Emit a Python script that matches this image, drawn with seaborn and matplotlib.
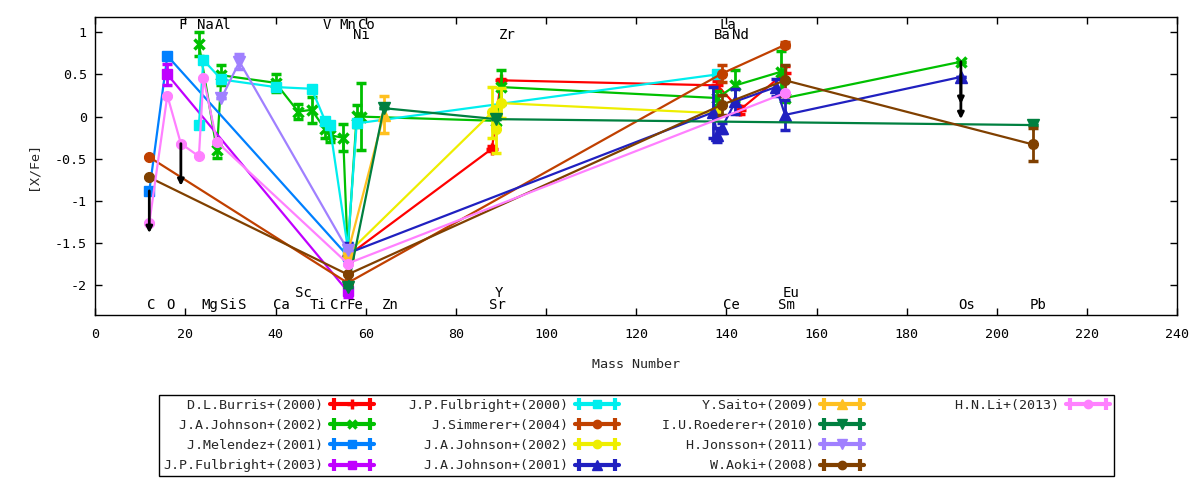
import matplotlib
matplotlib.use("Agg")
import matplotlib.pyplot as plt
from matplotlib.lines import Line2D
from matplotlib.legend_handler import HandlerLine2D
from matplotlib.ticker import FuncFormatter
import pandas as pd
import seaborn as sns

# -----------------------------
# Abundance data, [X/Fe] vs mass number
# -----------------------------
burris_x = [56, 88, 90, 138, 143, 153]
burris_y = [-1.65, -0.38, 0.43, 0.37, 0.08, 0.52]
burris_err = [0, 0.03, 0.02, 0.05, 0.05, 0.08]

johnson02_x = [23, 27, 28, 40, 45, 48, 51, 52, 55, 56, 58, 59, 89, 90, 138, 142, 152, 153, 192]
johnson02_y = [0.86, -0.40, 0.49, 0.40, 0.06, 0.08, -0.15, -0.22, -0.25, -1.60, 0.01, 0.00,
               -0.05, 0.35, 0.22, 0.37, 0.53, 0.22, 0.65]
johnson02_err = [0.14, 0.09, 0.12, 0.11, 0.09, 0.15, 0.10, 0.08, 0.16, 0, 0.13, 0.40,
                 0.05, 0.20, 0.08, 0.18, 0.25, 0.05, 0]

melendez_x = [12, 16, 56]
melendez_y = [-0.88, 0.72, -1.65]
melendez_err = [0, 0, 0]

fulbright03_x = [16, 56]
fulbright03_y = [0.50, -2.07]
fulbright03_err = [0.12, 0.07]

fulbright00_x = [23, 24, 28, 40, 48, 51, 52, 56, 58, 138]
fulbright00_y = [-0.10, 0.67, 0.44, 0.35, 0.33, -0.05, -0.10, -1.55, -0.08, 0.50]
fulbright00_err = [0, 0, 0, 0, 0, 0, 0, 0, 0, 0]

simmerer_x = [12, 56, 139, 153]
simmerer_y = [-0.48, -1.97, 0.51, 0.85]
simmerer_err = [0, 0, 0.10, 0.03]

johnson02b_x = [56, 88, 89, 90, 138]
johnson02b_y = [-1.62, 0.05, -0.15, 0.16, 0.04]
johnson02b_err = [0, 0.30, 0.28, 0.18, 0]

johnson01_x = [56, 137, 138, 139, 142, 151, 153, 192]
johnson01_y = [-1.62, 0.05, -0.22, -0.13, 0.18, 0.35, 0.02, 0.47]
johnson01_err = [0.12, 0.30, 0.08, 0.06, 0.15, 0.10, 0.18, 0]

saito_x = [56, 64]
saito_y = [-1.62, 0.02]
saito_err = [0, 0.22]

roederer_x = [56, 64, 89, 208]
roederer_y = [-2.02, 0.10, -0.03, -0.10]
roederer_err = [0, 0, 0, 0]

jonsson_x = [28, 32, 56]
jonsson_y = [0.22, 0.65, -1.58]
jonsson_err = [0, 0.09, 0]

aoki_x = [12, 56, 139, 153, 208]
aoki_y = [-0.72, -1.87, 0.14, 0.43, -0.33]
aoki_err = [0, 0, 0.12, 0.18, 0.19]

li_x = [12, 16, 19, 23, 24, 27, 56, 153]
li_y = [-1.26, 0.25, -0.32, -0.47, 0.46, -0.30, -1.74, 0.28]
li_err = [0, 0, 0, 0, 0, 0, 0, 0]

# upper limits (drawn as downward arrows)
ulim_x = [12, 19, 192, 192]
ulim_y = [-0.88, -0.32, 0.65, 0.47]

# element labels: name, mass position, row
elem_names = ["C", "O", "Mg", "Si", "S", "Ca", "Ti", "Cr", "Fe", "Zn", "Sr", "Ce", "Sm", "Os", "Pb",
              "Sc", "Y", "Eu",
              "F", "Na", "Al", "V", "Mn", "Co", "La",
              "Ni", "Zr", "Ba", "Nd"]
elem_x = [12.5, 16.6, 25.5, 29.5, 32.5, 41.4, 49.5, 53.9, 57.6, 65.4, 89.2, 141.2, 153.2, 193.3, 209.2,
          46.2, 89.6, 154.3,
          19.4, 24.4, 28.4, 51.3, 56.1, 60.2, 140.4,
          59.1, 91.3, 139.1, 143.2]
elem_y = [-2.23] * 15 + [-2.095] * 3 + [1.084] * 7 + [0.966] * 4

series = [
    ("D.L.Burris+(2000)", burris_x, burris_y, burris_err, "#ff0000", "+"),
    ("J.A.Johnson+(2002)", johnson02_x, johnson02_y, johnson02_err, "#00c000", "x"),
    ("J.Melendez+(2001)", melendez_x, melendez_y, melendez_err, "#0080ff", "s"),
    ("J.P.Fulbright+(2003)", fulbright03_x, fulbright03_y, fulbright03_err, "#c000ff", "s"),
    ("J.P.Fulbright+(2000)", fulbright00_x, fulbright00_y, fulbright00_err, "#00eeee", "s"),
    ("J.Simmerer+(2004)", simmerer_x, simmerer_y, simmerer_err, "#c04000", "o"),
    ("J.A.Johnson+(2002)", johnson02b_x, johnson02b_y, johnson02b_err, "#eeee00", "o"),
    ("J.A.Johnson+(2001)", johnson01_x, johnson01_y, johnson01_err, "#2020c0", "^"),
    ("Y.Saito+(2009)", saito_x, saito_y, saito_err, "#ffc020", "^"),
    ("I.U.Roederer+(2010)", roederer_x, roederer_y, roederer_err, "#008040", "v"),
    ("H.Jonsson+(2011)", jonsson_x, jonsson_y, jonsson_err, "#a080ff", "v"),
    ("W.Aoki+(2008)", aoki_x, aoki_y, aoki_err, "#804000", "o"),
    ("H.N.Li+(2013)", li_x, li_y, li_err, "#ff80ff", "o"),
]

marker_size = {"+": 8, "x": 7, "s": 7, "o": 7, "^": 8, "v": 8}
marker_ew = {"+": 2.5, "x": 2.5, "s": 1, "o": 1, "^": 1, "v": 1}

# -----------------------------
# Figure
# -----------------------------
sns.set_theme(style="ticks")
plt.rcParams["font.family"] = ["DejaVu Sans Mono", "DejaVu Sans"]
plt.rcParams["axes.unicode_minus"] = False

FS = 9.6
fig = plt.figure(figsize=(12, 4.8), dpi=100)
ax = fig.add_axes([95.2 / 1200, 1 - 315 / 480, (1177.3 - 95.2) / 1200, (315 - 17) / 480])

handles = []
labels = []
hmap = {}
for i, (label, xs, ys, errs, color, mk) in enumerate(series):
    df = pd.DataFrame({"mass": xs, "xfe": ys, "err": errs})
    ax.errorbar(df["mass"], df["xfe"], yerr=df["err"], fmt="none", ecolor=color,
                elinewidth=2, capsize=3.5, capthick=2.5, zorder=3 + i)
    sns.lineplot(data=df, x="mass", y="xfe", ax=ax, color=color, lw=1.6,
                 marker=mk, markersize=marker_size[mk], markeredgecolor=color,
                 markeredgewidth=marker_ew[mk], estimator=None, sort=False,
                 legend=False, zorder=3 + i)

    line = Line2D([], [], color=color, lw=3, marker=mk, markersize=marker_size[mk] - 1,
                  markeredgecolor=color, markeredgewidth=marker_ew[mk])
    caps = Line2D([], [], color=color, lw=0, marker="|", markersize=8, markeredgewidth=3)
    hmap[line] = HandlerLine2D(numpoints=1)
    hmap[caps] = HandlerLine2D(numpoints=2)
    handles.append((line, caps))
    labels.append(f"{label:>20}")

# blank entries so the last column holds a single entry
for _ in range(3):
    handles.append(Line2D([], [], alpha=0))
    labels.append("")

# upper limit arrows
for ux, uy in zip(ulim_x, ulim_y):
    ax.annotate("", xy=(ux, uy - 0.5), xytext=(ux, uy),
                arrowprops=dict(arrowstyle="-|>", color="black", lw=2,
                                mutation_scale=9, shrinkA=0, shrinkB=0),
                zorder=20)

# element names
for name, ex, ey in zip(elem_names, elem_x, elem_y):
    ax.text(ex, ey, name, ha="center", va="center", fontsize=FS + 0.5, color="black")

ax.set_xlim(0, 240)
ax.set_ylim(-2.35, 1.18)
ax.set_xticks(range(0, 241, 20))
ax.set_yticks([-2, -1.5, -1, -0.5, 0, 0.5, 1])
ax.yaxis.set_major_formatter(FuncFormatter(lambda v, p: "%g" % v))
ax.tick_params(direction="in", top=True, right=True, length=5, width=1,
               colors="black", labelsize=FS)
ax.tick_params(axis="x", pad=9)
ax.tick_params(axis="y", pad=6)
for sp in ax.spines.values():
    sp.set_visible(True)
    sp.set_color("black")
    sp.set_linewidth(1)
ax.set_xlabel("")
ax.set_ylabel("")

fig.text(636 / 1200, 1 - 365 / 480, "Mass Number", ha="center", va="center", fontsize=FS)
fig.text(33 / 1200, 1 - 166 / 480, "[X/Fe]", ha="center", va="center",
         rotation=90, fontsize=FS)

leg = fig.legend(handles, labels, loc="upper center",
                 bbox_to_anchor=(636.5 / 1200, 1 - 395 / 480),
                 bbox_transform=fig.transFigure, ncol=4, markerfirst=False,
                 frameon=True, fancybox=False, edgecolor="black", framealpha=1,
                 handlelength=3.3, handletextpad=0.5, columnspacing=2.6,
                 labelspacing=0.53, borderpad=0.3, borderaxespad=0,
                 fontsize=FS, handler_map=hmap)
leg.get_frame().set_linewidth(1)

fig.savefig("out.png", dpi=100)
